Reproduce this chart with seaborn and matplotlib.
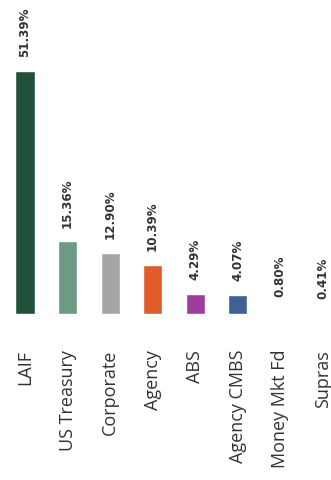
import matplotlib
matplotlib.use('Agg')
import matplotlib.pyplot as plt
import pandas as pd
import seaborn as sns

# Portfolio allocation by sector (percent)
sectors = ['LAIF', 'US Treasury', 'Corporate', 'Agency', 'ABS',
           'Agency CMBS', 'Money Mkt Fd', 'Supras']
percents = [51.39, 15.36, 12.90, 10.39, 4.29, 4.07, 0.80, 0.41]
bar_colors = ['#22513b', '#6c9a82', '#a5a5a5', '#e05d2b', '#9c3d9e',
              '#3f6193', '#ffffff', '#ffffff']

df = pd.DataFrame({'sector': sectors, 'pct': percents})

sns.set_theme(style='white')
plt.rcParams['font.family'] = ['Open Sans', 'DejaVu Sans']

fig = plt.figure(figsize=(3.31, 4.81), dpi=100)
ax = fig.add_axes([0.0, 0.345, 1.0, 0.655])

sns.barplot(data=df, x='sector', y='pct', hue='sector', palette=bar_colors,
            legend=False, width=0.45, saturation=1, ax=ax)

ax.set_xlim(-0.587, 7.19)
ax.set_ylim(0, 66.6)

# value labels above the bars
for i, v in enumerate(percents):
    ax.annotate(f'{v:.2f}%', (i, v), xytext=(0, 10.5), textcoords='offset points',
                rotation=90, ha='center', va='bottom', fontsize=8.6,
                fontweight='bold', color='#333333', family=['DejaVu Sans'])

ax.set_xlabel('')
ax.set_ylabel('')
ax.set_yticks([])
ax.tick_params(axis='x', length=0, pad=25, labelsize=13, labelcolor='#333333')
for lbl in ax.get_xticklabels():
    lbl.set_rotation(90)
    lbl.set_va('top')
    lbl.set_ha('center')
sns.despine(ax=ax, left=True, bottom=True)

fig.savefig('out.png', dpi=100)
